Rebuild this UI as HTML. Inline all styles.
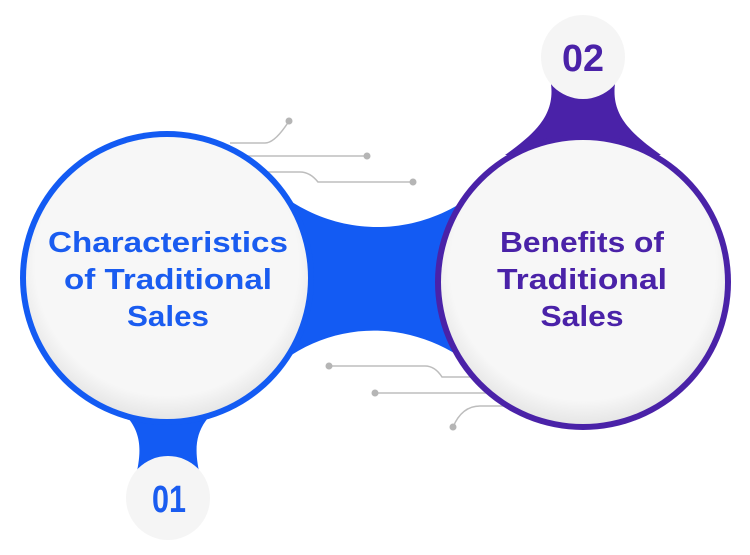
<!DOCTYPE html>
<html><head><style>
body{margin:0;background:#fff;width:750px;height:555px;overflow:hidden}
svg{display:block}
</style></head><body>
<svg width="750" height="555" viewBox="0 0 750 555" xmlns="http://www.w3.org/2000/svg">
<defs>
<radialGradient id="g" cx="50%" cy="45%" r="55%"><stop offset="0.85" stop-color="#f7f7f7"/><stop offset="1" stop-color="#e6e6e6"/></radialGradient>
</defs>
<g stroke="#bdbdbd" stroke-width="1.5" fill="none">
<path d="M230 143 H265 Q275 143 289 121"/>
<path d="M230 156 H367"/>
<path d="M230 172 H300 Q310 172 318 182 H413"/>
<path d="M329 366 H425 Q435 366 442 377 H490"/>
<path d="M375 393 H500"/>
<path d="M453 427 Q462 406 480 406 H510"/>
</g>
<g fill="#b5b5b5">
<circle cx="289" cy="121" r="3.5"/><circle cx="367" cy="156" r="3.5"/><circle cx="413" cy="182" r="3.5"/>
<circle cx="329" cy="366" r="3.5"/><circle cx="375" cy="393" r="3.5"/><circle cx="453" cy="427" r="3.5"/>
</g>
<path d="M240 152 C310 251 440 251 510 158 L515 410 C440 305 310 305 240 405 Z" fill="#135bf3"/>
<path d="M100 395 C140 420 145 440 135 480 L201 480 C191 440 196 420 236 395 Z" fill="#135bf3"/>
<path d="M548 70 C560 110 540 130 505 155 L661 155 C626 130 606 110 618 70 Z" fill="#4a22a8"/>
<circle cx="167" cy="278" r="147" fill="#135bf3"/>
<circle cx="167" cy="278" r="141" fill="url(#g)"/>
<circle cx="583" cy="282" r="148" fill="#4a22a8"/>
<circle cx="583" cy="282" r="142" fill="url(#g)"/>
<circle cx="168" cy="498" r="42" fill="#f5f5f5"/>
<circle cx="583" cy="57" r="42" fill="#f5f5f5"/>
<g font-family="Liberation Sans, sans-serif" font-weight="bold" font-size="29" text-anchor="middle">
<g fill="#1a5cf0">
<text x="168" y="252" textLength="240" lengthAdjust="spacingAndGlyphs">Characteristics</text>
<text x="168" y="289" textLength="208" lengthAdjust="spacingAndGlyphs">of Traditional</text>
<text x="168" y="326" textLength="82" lengthAdjust="spacingAndGlyphs">Sales</text>
</g>
<g fill="#4a22a8">
<text x="582" y="252" textLength="164" lengthAdjust="spacingAndGlyphs">Benefits of</text>
<text x="582" y="289" textLength="170" lengthAdjust="spacingAndGlyphs">Traditional</text>
<text x="582" y="326" textLength="83" lengthAdjust="spacingAndGlyphs">Sales</text>
</g>
</g>
<g font-family="Liberation Sans, sans-serif" font-weight="bold" font-size="38" text-anchor="middle">
<text x="169" y="512" fill="#1a5cf0" textLength="34" lengthAdjust="spacingAndGlyphs">01</text>
<text x="583" y="71" fill="#4a22a8" textLength="42" lengthAdjust="spacingAndGlyphs">02</text>
</g>
</svg>
</body></html>
